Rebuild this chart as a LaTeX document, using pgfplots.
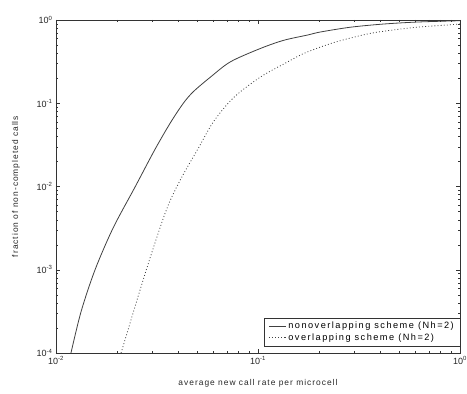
\documentclass[border=0pt]{standalone}
\usepackage{pgfplots}
\pgfplotsset{compat=1.18}
\usepackage{fontspec}
\setmainfont{Liberation Sans}
\newfontfamily\lblfont[LetterSpace=12]{Liberation Sans}
\newfontfamily\legfont[LetterSpace=16]{Liberation Sans}
\begin{document}
\begin{tikzpicture}
\useasboundingbox (-56pt,-41pt) rectangle (411pt,353pt);
\begin{axis}[
  at={(0,0)}, anchor=south west,
  scale only axis,
  width=404pt, height=333pt,
  xmode=log, ymode=log,
  xmin=0.01, xmax=1, ymin=1e-4, ymax=1,
  xtick={0.01,0.1,1},
  xticklabels={10\textsuperscript{-2},10\textsuperscript{-1},10\textsuperscript{0}},
  ytick={1e-4,1e-3,1e-2,1e-1,1},
  yticklabels={10\textsuperscript{-4},10\textsuperscript{-3},10\textsuperscript{-2},10\textsuperscript{-1},10\textsuperscript{0}},
  tick label style={font=\fontsize{9}{10}\selectfont, black!85},
  major tick length=4pt, minor tick length=2pt,
  tick style={black!80},
  axis line style={black!80, line width=0.8pt},
  xlabel={average new call rate per microcell},
  ylabel={fraction of non-completed calls},
  xlabel style={font=\lblfont\fontsize{8.4}{10}\selectfont, black!85, at={(axis description cs:0.5,-0.09)}, anchor=center},
  ylabel style={font=\lblfont\fontsize{8.4}{10}\selectfont, black!85, at={(axis description cs:-0.099,0.5)}, anchor=center},
  legend style={at={(1,0.02)}, anchor=south east, draw=black!80, font=\legfont\fontsize{9.2}{12}\selectfont, legend cell align=left, inner xsep=4pt, inner ysep=2.5pt, row sep=-1pt},
]
\addplot[black!75, line width=0.8pt, smooth, tension=0.5] coordinates {
(0.01186,1e-4) (0.01332,3.162e-4) (0.01561,1e-3) (0.01916,3.162e-3) (0.0247,0.01) (0.0308,0.0275)
(0.0368,0.058) (0.0427,0.1) (0.0479,0.138) (0.058,0.205) (0.0731,0.315)
(0.1028,0.455) (0.134,0.57) (0.176,0.66) (0.204,0.718) (0.288,0.82)
(0.42,0.895) (0.62,0.946) (1.0,0.98)
};
\addlegendentry{nonoverlapping scheme (Nh=2)}
\addplot[black!75, line width=0.8pt, dash pattern=on 0.9pt off 2.2pt, smooth, tension=0.5] coordinates {
(0.0210,1e-4) (0.028,1e-3) (0.0352,0.00525) (0.0417,0.0126) (0.0501,0.0275)
(0.0603,0.0603) (0.0759,0.1175) (0.103,0.207) (0.14,0.313) (0.17,0.40)
(0.237,0.535) (0.349,0.68) (0.45,0.75) (0.6,0.815) (0.75,0.85) (1.0,0.895)
};
\addlegendentry{overlapping scheme (Nh=2)}
\end{axis}
\end{tikzpicture}
\end{document}
